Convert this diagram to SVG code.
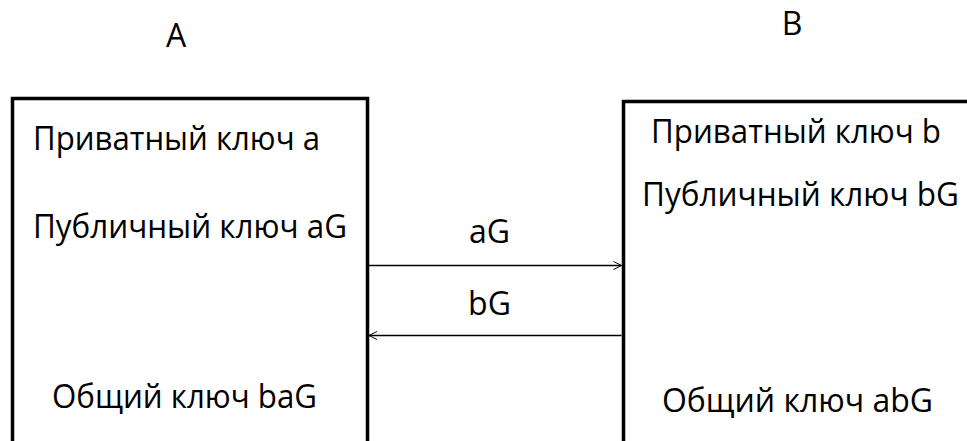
<svg xmlns="http://www.w3.org/2000/svg" width="967" height="441" viewBox="0 0 967 441">
<style>
text{font-family:"Open Sans","Noto Sans","Liberation Sans",sans-serif;font-size:32px;fill:#000}
.box{fill:#fff;stroke:#000;stroke-width:3.5}
.edge{stroke:#000;stroke-width:1.3;fill:none}
</style>
<defs>
<marker id="ah" markerWidth="10" markerHeight="10" refX="9" refY="5" orient="auto" markerUnits="userSpaceOnUse">
<path d="M1,1 L9,5 L1,9" fill="none" stroke="#000" stroke-width="1"/>
</marker>
</defs>
<rect width="967" height="441" fill="#fff"/>
<text x="176" y="47" text-anchor="middle">A</text>
<text x="792" y="35" text-anchor="middle">B</text>
<g id="nodeA">
<rect class="box" x="12.5" y="98.5" width="355" height="360"/>
<text x="33" y="150" textLength="287" lengthAdjust="spacingAndGlyphs">Приватный ключ a</text>
<text x="33" y="238" textLength="314" lengthAdjust="spacingAndGlyphs">Публичный ключ aG</text>
<text x="52" y="408" textLength="265" lengthAdjust="spacingAndGlyphs">Общий ключ baG</text>
</g>
<g id="nodeB">
<rect class="box" x="623.5" y="101.5" width="360" height="360"/>
<text x="651" y="143" textLength="290" lengthAdjust="spacingAndGlyphs">Приватный ключ b</text>
<text x="642" y="206" textLength="317" lengthAdjust="spacingAndGlyphs">Публичный ключ bG</text>
<text x="662" y="412" textLength="271" lengthAdjust="spacingAndGlyphs">Общий ключ abG</text>
</g>
<g id="connectors">
<line class="edge" x1="369" y1="265.5" x2="621.5" y2="265.5" marker-end="url(#ah)"/>
<line class="edge" x1="621.5" y1="335.5" x2="369" y2="335.5" marker-end="url(#ah)"/>
<text x="489.5" y="243" text-anchor="middle">aG</text>
<text x="489.5" y="315" text-anchor="middle">bG</text>
</g>
</svg>
